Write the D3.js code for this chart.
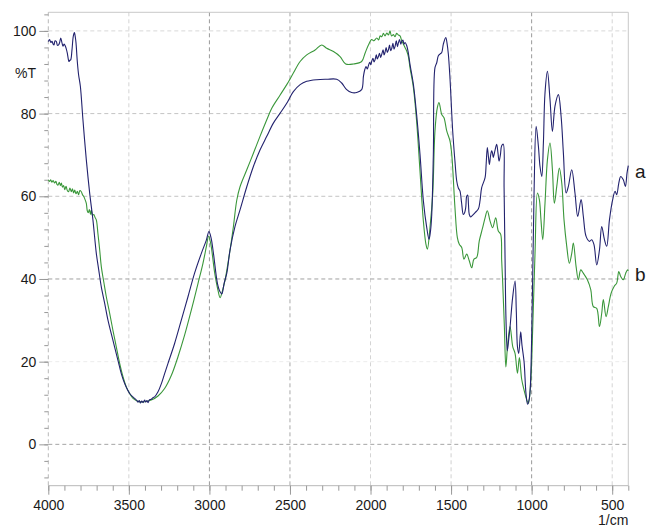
<!DOCTYPE html>
<html>
<head>
<meta charset="utf-8">
<script src="https://cdn.jsdelivr.net/npm/d3@7"></script>
<style>
  body { margin: 0; background: #fff; }
  svg { display: block; font-family: "Liberation Sans", Arial, sans-serif; }
  .axis path { display: none; }
  .axis line { stroke: #999; }
  .axis text { font-size: 14px; fill: #1a1a1a; }
</style>
</head>
<body>
<div id="chart"></div>
<script>
// spectrum a (navy): [wavenumber 1/cm, %T]
const spectrumA = [
  [4000, 97.4], [3992, 97.9], [3984, 97.2], [3977, 97.5], [3970, 96.8], [3965, 96.6],
  [3958, 97.6], [3950, 97.4], [3943, 96.5], [3936, 96.6], [3929, 97.3], [3923, 98.3],
  [3915, 97.1], [3909, 96.3], [3902, 96.8], [3894, 96.3], [3888, 95.6], [3882, 94.6],
  [3876, 93.2], [3872, 92.6], [3866, 92.9], [3861, 93.0], [3853, 95.4], [3845, 98.7],
  [3838, 99.6], [3832, 98.4], [3828, 97.1], [3820, 92.6], [3812, 89.4], [3801, 86.6],
  [3785, 78.5], [3764, 68.8], [3743, 60.7], [3723, 54.3], [3702, 46.2], [3687, 42.2],
  [3671, 38.1], [3650, 34.1], [3630, 30.1], [3599, 25.2], [3568, 20.4], [3547, 17.1],
  [3526, 14.7], [3495, 12.3], [3464, 11.1], [3450, 10.6], [3443, 10.2], [3435, 10.6],
  [3428, 10.0], [3420, 10.5], [3412, 10.1], [3402, 10.7], [3395, 10.2], [3388, 10.6],
  [3381, 10.1], [3372, 10.8], [3361, 10.9], [3350, 11.3], [3340, 11.5], [3319, 12.7],
  [3298, 14.7], [3278, 17.1], [3257, 19.6], [3216, 24.4], [3174, 30.1], [3133, 35.7],
  [3092, 41.4], [3050, 46.2], [3019, 49.4], [3003, 51.5], [2990, 50.0], [2975, 46.2],
  [2950, 38.9], [2934, 36.9], [2923, 36.4], [2909, 38.9], [2892, 41.4], [2872, 47.0],
  [2841, 52.7], [2810, 56.7], [2768, 62.3], [2727, 67.2], [2686, 71.2], [2644, 74.5],
  [2603, 77.7], [2561, 80.1], [2520, 82.5], [2479, 85.3], [2437, 87.0], [2396, 87.8],
  [2334, 88.2], [2272, 88.3], [2210, 88.3], [2179, 87.4], [2148, 85.8], [2117, 85.1],
  [2086, 85.1], [2055, 85.8], [2044, 89.0], [2036, 90.6], [2028, 91.4], [2020, 90.8],
  [2013, 91.6], [2005, 92.4], [1998, 91.8], [1993, 92.6], [1985, 93.4], [1978, 92.5],
  [1972, 93.0], [1964, 94.2], [1958, 93.2], [1951, 93.8], [1944, 94.6], [1937, 93.6],
  [1930, 94.4], [1922, 95.4], [1916, 94.2], [1910, 94.8], [1903, 96.0], [1896, 94.8],
  [1889, 95.4], [1882, 96.6], [1875, 95.2], [1868, 95.8], [1861, 97.0], [1854, 95.6],
  [1848, 96.2], [1840, 97.6], [1833, 96.2], [1827, 97.1], [1820, 97.9], [1812, 96.8],
  [1806, 97.5], [1799, 97.8], [1792, 96.8], [1785, 97.2], [1775, 96.4], [1765, 94.6],
  [1755, 91.9], [1734, 87.1], [1714, 79.8], [1693, 70.2], [1672, 58.9], [1651, 52.4],
  [1637, 49.6], [1628, 51.5], [1620, 55.6], [1610, 70.2], [1600, 91.1], [1589, 92.3],
  [1579, 94.0], [1569, 94.4], [1558, 94.8], [1548, 96.8], [1533, 98.4], [1525, 97.0],
  [1517, 94.4], [1507, 88.7], [1490, 75.8], [1476, 68.5], [1465, 63.7], [1455, 62.0],
  [1445, 61.3], [1435, 58.5], [1424, 55.6], [1416, 56.0], [1409, 57.3], [1403, 60.0],
  [1397, 60.3], [1392, 58.0], [1387, 55.6], [1378, 55.0], [1372, 55.2], [1352, 56.0],
  [1331, 56.9], [1320, 59.0], [1310, 62.1], [1289, 64.5], [1282, 68.0], [1275, 71.8],
  [1268, 69.5], [1262, 67.7], [1255, 69.8], [1248, 71.0], [1243, 70.5], [1238, 69.4],
  [1228, 71.0], [1217, 72.6], [1209, 70.5], [1202, 68.5], [1194, 70.0], [1186, 72.2],
  [1176, 72.6], [1171, 62.1], [1165, 45.0], [1159, 30.0], [1151, 22.6], [1142, 25.5],
  [1134, 28.4], [1118, 35.5], [1103, 39.5], [1095, 32.0], [1088, 23.6], [1080, 22.0],
  [1068, 27.2], [1060, 24.0], [1047, 20.0], [1035, 12.3], [1025, 9.7], [1015, 11.0],
  [1008, 14.0], [995, 36.5], [985, 60.8], [972, 76.9], [958, 72.1], [948, 67.2],
  [937, 64.8], [927, 72.9], [917, 85.0], [902, 90.2], [886, 83.4], [871, 75.7],
  [855, 81.8], [834, 84.6], [817, 79.3], [803, 70.5], [786, 60.8], [772, 62.4],
  [751, 66.4], [731, 60.8], [714, 55.1], [693, 59.2], [679, 55.1], [662, 50.3],
  [641, 49.1], [627, 49.5], [613, 48.3], [596, 43.4], [579, 47.0], [565, 52.7],
  [548, 49.5], [534, 47.9], [517, 54.3], [497, 59.2], [482, 61.2], [472, 60.4],
  [459, 63.2], [447, 64.8], [431, 64.0], [418, 62.4], [408, 65.6], [400, 67.4]
];

// spectrum b (green)
const spectrumB = [
  [4000, 64.0], [3992, 63.6], [3985, 64.0], [3978, 63.4], [3970, 63.8], [3961, 63.2],
  [3953, 63.6], [3945, 62.8], [3940, 62.7], [3932, 63.4], [3925, 62.6], [3919, 63.2],
  [3912, 62.2], [3905, 62.6], [3898, 61.6], [3890, 62.4], [3882, 61.4], [3874, 61.1],
  [3866, 62.0], [3857, 61.1], [3850, 61.8], [3843, 60.8], [3836, 61.5], [3828, 60.6],
  [3820, 61.2], [3812, 60.4], [3804, 61.4], [3795, 61.1], [3788, 60.4], [3779, 59.9],
  [3770, 59.0], [3764, 58.3], [3758, 56.5], [3752, 56.0], [3745, 56.8], [3738, 55.6],
  [3733, 56.7], [3726, 55.4], [3718, 55.6], [3710, 54.9], [3702, 54.3], [3692, 51.0],
  [3681, 47.0], [3671, 43.0], [3654, 38.9], [3640, 35.7], [3619, 31.7], [3599, 27.6],
  [3578, 23.6], [3557, 19.6], [3536, 16.3], [3516, 13.9], [3495, 12.3], [3474, 11.1],
  [3443, 10.4], [3402, 10.3], [3361, 10.7], [3319, 11.7], [3278, 13.5], [3236, 16.7],
  [3195, 21.2], [3154, 26.4], [3112, 32.5], [3071, 38.9], [3040, 43.8], [3019, 47.8],
  [3005, 50.4], [2992, 48.6], [2967, 41.4], [2947, 37.3], [2934, 35.5], [2920, 37.0],
  [2903, 39.7], [2872, 47.0], [2851, 52.7], [2830, 59.1], [2810, 62.3], [2768, 66.4],
  [2727, 70.4], [2686, 74.5], [2644, 78.5], [2613, 81.3], [2561, 84.5], [2520, 87.0],
  [2479, 89.8], [2437, 92.6], [2396, 94.2], [2344, 95.4], [2303, 96.6], [2272, 95.8],
  [2230, 95.0], [2189, 93.8], [2154, 92.0], [2106, 92.0], [2055, 92.6], [2034, 94.6],
  [2013, 96.6], [1993, 97.9], [1980, 97.6], [1961, 98.3], [1950, 97.8], [1940, 98.8],
  [1930, 98.6], [1920, 99.4], [1910, 98.8], [1899, 99.5], [1889, 99.0], [1879, 100.0],
  [1870, 98.8], [1858, 99.1], [1848, 98.6], [1838, 99.4], [1827, 99.0], [1817, 98.8],
  [1806, 97.6], [1796, 96.8], [1786, 96.0], [1776, 95.2], [1765, 93.8], [1755, 91.1],
  [1734, 86.3], [1714, 78.2], [1693, 66.1], [1672, 54.0], [1656, 48.4], [1647, 47.2],
  [1631, 52.4], [1614, 60.5], [1600, 75.8], [1585, 81.5], [1575, 82.7], [1558, 79.8],
  [1544, 79.0], [1527, 75.8], [1507, 73.4], [1496, 70.2], [1476, 57.3], [1461, 50.0],
  [1449, 48.4], [1434, 47.6], [1420, 44.8], [1403, 46.0], [1387, 44.4], [1372, 42.7],
  [1358, 44.8], [1341, 45.2], [1325, 49.2], [1304, 52.4], [1289, 54.8], [1275, 56.5],
  [1258, 54.0], [1242, 52.4], [1223, 54.8], [1207, 51.6], [1192, 50.8], [1186, 44.6],
  [1180, 39.5], [1169, 28.2], [1160, 18.7], [1150, 23.6], [1134, 28.5], [1117, 23.6],
  [1103, 22.0], [1088, 17.2], [1076, 21.0], [1062, 15.8], [1047, 13.1], [1030, 10.7],
  [1020, 9.9], [1006, 14.8], [993, 28.5], [979, 46.2], [964, 60.8], [952, 59.2],
  [942, 54.3], [931, 49.5], [917, 58.3], [902, 68.8], [886, 72.9], [871, 66.4],
  [859, 58.3], [844, 62.4], [828, 66.8], [813, 63.2], [799, 54.3], [782, 47.9],
  [766, 43.8], [751, 46.2], [741, 48.7], [724, 43.0], [710, 39.8], [695, 42.2],
  [679, 41.4], [654, 39.8], [633, 37.4], [617, 33.3], [596, 32.9], [579, 28.5],
  [565, 31.7], [555, 35.0], [538, 30.9], [524, 33.3], [507, 36.5], [488, 38.2],
  [472, 39.0], [459, 41.8], [447, 40.6], [431, 39.8], [416, 41.4], [404, 42.2],
  [400, 42.0]
];

const xMajorTicks = [4000, 3500, 3000, 2500, 2000, 1500, 1000, 500];
const xMinorTicks = d3.range(4000, 399, -100);
const yMajorTicks = [0, 20, 40, 60, 80, 100];
const yMinorTicks = d3.range(-8, 105, 4);
const seriesLabels = ["a", "b"];

const width = 655, height = 527;
const plot = {left: 48.3, top: 12.3, right: 628.3, bottom: 485.7};

const svg = d3.select("#chart").append("svg")
  .attr("width", width)
  .attr("height", height);

svg.append("rect").attr("width", width).attr("height", height).attr("fill", "#fff");

const x = d3.scaleLinear().domain([4000, 400]).range([plot.left, plot.right]);
const y = d3.scaleLinear().domain([-10, 104.5]).range([plot.bottom, plot.top]);

// grid shades
const vGridColor = {3500: "#d4d4d4", 3000: "#9a9a9a", 2500: "#aaaaaa", 2000: "#d4d4d4",
                    1500: "#d0d0d0", 1000: "#9a9a9a", 500: "#d4d4d4"};
const hGridColor = {0: "#a6a6a6", 20: "#ececec", 40: "#a0a0a0", 60: "#c4c4c4",
                    80: "#c4c4c4", 100: "#d8d8d8"};

let grid = svg.append("g");
grid.selectAll(".vgrid")
  .data(xMajorTicks.filter(d => d !== 4000))
  .enter().append("line")
  .attr("x1", d => x(d)).attr("x2", d => x(d))
  .attr("y1", plot.top).attr("y2", plot.bottom)
  .attr("stroke", d => vGridColor[d])
  .attr("stroke-dasharray", "4,3");

grid.selectAll(".hgrid")
  .data(yMajorTicks)
  .enter().append("line")
  .attr("x1", plot.left).attr("x2", plot.right)
  .attr("y1", d => y(d)).attr("y2", d => y(d))
  .attr("stroke", d => hGridColor[d])
  .attr("stroke-dasharray", "4,3");

// frame
svg.append("line").attr("x1", plot.left).attr("x2", plot.right)
  .attr("y1", plot.top).attr("y2", plot.top).attr("stroke", "#c8c8c8");
svg.append("line").attr("x1", plot.right).attr("x2", plot.right)
  .attr("y1", plot.top).attr("y2", plot.bottom).attr("stroke", "#c8c8c8");
svg.append("line").attr("x1", plot.left).attr("x2", plot.right)
  .attr("y1", plot.bottom).attr("y2", plot.bottom).attr("stroke", "#b8b8b8");
svg.append("line").attr("x1", plot.left).attr("x2", plot.left)
  .attr("y1", plot.top).attr("y2", plot.bottom).attr("stroke", "#b8b8b8")
  .attr("stroke-dasharray", "4,3");

// axes
svg.append("g").attr("class", "axis")
  .attr("transform", `translate(0,${plot.bottom})`)
  .call(d3.axisBottom(x).tickValues(xMinorTicks).tickSize(5).tickFormat(""));
svg.append("g").attr("class", "axis")
  .attr("transform", `translate(0,${plot.bottom})`)
  .call(d3.axisBottom(x).tickValues(xMajorTicks).tickSize(9).tickPadding(5).tickFormat(d3.format("d")));

svg.append("g").attr("class", "axis")
  .attr("transform", `translate(${plot.left},0)`)
  .call(d3.axisLeft(y).tickValues(yMinorTicks).tickSize(4).tickFormat(""));
svg.append("g").attr("class", "axis")
  .attr("transform", `translate(${plot.left},0)`)
  .call(d3.axisLeft(y).tickValues(yMajorTicks).tickSize(9).tickPadding(3).tickFormat(d3.format("d")));

svg.append("text")
  .attr("x", 36).attr("y", 78)
  .attr("text-anchor", "end")
  .style("font-size", "14px").style("fill", "#1a1a1a")
  .text("%T");

svg.append("text")
  .attr("x", plot.right).attr("y", 525)
  .attr("text-anchor", "end")
  .style("font-size", "14px").style("fill", "#1a1a1a")
  .text("1/cm");

// spectra
let line = d3.line()
  .x(d => x(d[0]))
  .y(d => y(d[1]))
  .curve(d3.curveCatmullRom.alpha(0.5));

svg.append("path")
  .datum(spectrumB)
  .attr("d", line)
  .attr("fill", "none")
  .attr("stroke", "#3a973a")
  .attr("stroke-width", 1.1);

svg.append("path")
  .datum(spectrumA)
  .attr("d", line)
  .attr("fill", "none")
  .attr("stroke", "#22226e")
  .attr("stroke-width", 1.1);

// curve labels at the right end
svg.selectAll(".seriesLabel")
  .data([spectrumA, spectrumB])
  .enter().append("text")
  .attr("x", 635)
  .attr("y", (d, i) => i === 0 ? 178 : 281)
  .style("font-size", "19px")
  .style("fill", "#1a1a1a")
  .text((d, i) => seriesLabels[i]);
</script>
</body>
</html>
